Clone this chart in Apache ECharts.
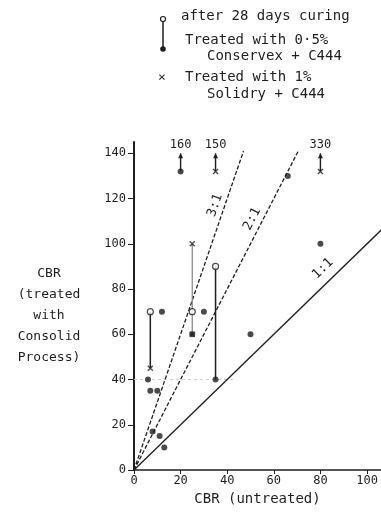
<!DOCTYPE html>
<html>
<head>
<meta charset="utf-8">
<script src="https://cdn.jsdelivr.net/npm/echarts@6/dist/echarts.min.js"></script>
<style>
  html, body { margin: 0; padding: 0; background: #fff; }
  #chart { width: 381px; height: 525px; }
</style>
</head>
<body>
<div id="chart"></div>
<script>
// values
const filledPts = [[12, 70], [30, 70], [25, 60], [6, 40], [35, 40], [7, 35], [10, 35],
  [8, 17], [11, 15], [13, 10], [50, 60], [80, 100], [66, 130], [20, 132]];
const openPts = [[7, 70], [25, 70], [35, 90]];
const crossPts = [[7, 45], [25, 60], [25, 100], [35, 132], [80, 132]];
// [x, from, to]
const curingLinks = [[7, 70, 45], [35, 90, 40]];
const greyLinks = [[25, 100, 60]];
// off-scale values: [x, y, arrow tip, value]
const offScale = [[20, 132, 140, '160'], [35, 132, 140, '150'], [80, 132, 140, '330']];
const ratios = [3, 2, 1];
const ratioEndX = [47, 70.5, 110];
const ratioNames = ['3:1', '2:1', '1:1'];
const ratioLabelAt = [[34.8, 117], [50.7, 111], [81, 89]];

const ink = '#1e1e1e';
const mono = 'DejaVu Sans Mono';

const chart = echarts.init(document.getElementById('chart'));

const ratioSeries = ratios.map((r, i) => ({
  type: 'line',
  data: [[0, 0], [ratioEndX[i], ratioEndX[i] * r]],
  symbol: 'none',
  silent: true,
  lineStyle: { color: ink, width: 1.3, type: r === 1 ? 'solid' : [4, 2] },
  z: 2
}));

const option = {
  animation: false,
  grid: { left: 134, right: 0, top: 142, bottom: 55 },
  xAxis: {
    type: 'value', min: 0, max: 106, interval: 20,
    axisLine: { lineStyle: { color: ink, width: 1.5 } },
    axisTick: { length: 4, lineStyle: { color: ink } },
    axisLabel: {
      color: ink, fontFamily: mono, fontSize: 12, margin: 5, showMaxLabel: false,
      formatter: v => (v % 20 === 0 ? v : '')
    },
    splitLine: { show: false },
    name: 'CBR (untreated)', nameLocation: 'middle', nameGap: 22,
    nameTextStyle: { color: ink, fontFamily: mono, fontSize: 14 }
  },
  yAxis: {
    type: 'value', min: 0, max: 145, interval: 20,
    axisLine: { lineStyle: { color: ink, width: 2 } },
    axisTick: { length: 6, lineStyle: { color: ink } },
    axisLabel: {
      color: ink, fontFamily: mono, fontSize: 12, margin: 8, showMaxLabel: false,
      formatter: v => (v % 20 === 0 ? v : '')
    },
    splitLine: { show: false }
  },
  graphic: [
    // legend
    { type: 'line', shape: { x1: 163, y1: 19, x2: 163, y2: 49 }, style: { stroke: ink, lineWidth: 1.5 } },
    { type: 'circle', shape: { cx: 163, cy: 19, r: 2.5 }, style: { fill: '#fff', stroke: ink, lineWidth: 1.2 } },
    { type: 'circle', shape: { cx: 163, cy: 49, r: 2.8 }, style: { fill: ink } },
    { type: 'text', left: 181, top: 9, style: { text: 'after 28 days curing', font: '14px ' + mono, fill: ink } },
    { type: 'text', left: 185, top: 33, style: { text: 'Treated with 0·5%', font: '14px ' + mono, fill: ink } },
    { type: 'text', left: 207, top: 49, style: { text: 'Conservex + C444', font: '14px ' + mono, fill: ink } },
    { type: 'text', left: 158, top: 71, style: { text: '×', font: '13px ' + mono, fill: ink } },
    { type: 'text', left: 185, top: 70, style: { text: 'Treated with 1%', font: '14px ' + mono, fill: ink } },
    { type: 'text', left: 207, top: 87, style: { text: 'Solidry + C444', font: '14px ' + mono, fill: ink } },
    // y axis title
    {
      type: 'text', x: 49, y: 263,
      style: {
        text: 'CBR\n(treated\nwith\nConsolid\nProcess)', font: '13px ' + mono,
        fill: ink, align: 'center', verticalAlign: 'top', lineHeight: 21
      }
    }
  ],
  series: [
    ...ratioSeries,
    {
      // faint guide at 40
      type: 'line', data: [[0, 40], [43, 40]], symbol: 'none', silent: true,
      lineStyle: { color: '#d0d0d0', width: 1, type: [3, 3] }, z: 1
    },
    {
      type: 'custom',
      silent: true,
      data: curingLinks.concat(greyLinks),
      renderItem: (params, api) => {
        const a = api.coord([api.value(0), api.value(1)]);
        const b = api.coord([api.value(0), api.value(2)]);
        const grey = params.dataIndex >= curingLinks.length;
        return {
          type: 'line',
          shape: { x1: a[0], y1: a[1], x2: b[0], y2: b[1] },
          style: { stroke: grey ? '#8a8a8a' : ink, lineWidth: grey ? 1.3 : 1.5 }
        };
      },
      z: 3
    },
    {
      type: 'custom',
      silent: true,
      data: offScale,
      renderItem: (params, api) => {
        const a = api.coord([api.value(0), api.value(1)]);
        const t = api.coord([api.value(0), api.value(2)]);
        return {
          type: 'group',
          children: [
            { type: 'line', shape: { x1: a[0], y1: a[1], x2: t[0], y2: t[1] }, style: { stroke: ink, lineWidth: 1.4 } },
            { type: 'polygon', shape: { points: [[t[0], t[1]], [t[0] - 2.5, t[1] + 5], [t[0] + 2.5, t[1] + 5]] }, style: { fill: ink } },
            {
              type: 'text', x: t[0], y: t[1] - 2,
              style: { text: offScale[params.dataIndex][3], font: '12px ' + mono, fill: ink, align: 'center', verticalAlign: 'bottom' }
            }
          ]
        };
      },
      z: 3
    },
    {
      type: 'custom',
      silent: true,
      data: ratioLabelAt,
      renderItem: (params, api) => {
        const r = ratios[params.dataIndex];
        const p0 = api.coord([0, 0]);
        const p1 = api.coord([10, 10 * r]);
        const ang = Math.atan2(p0[1] - p1[1], p1[0] - p0[0]);
        const c = api.coord([api.value(0), api.value(1)]);
        return {
          type: 'text', x: c[0], y: c[1], rotation: ang,
          style: { text: ratioNames[params.dataIndex], font: '13px ' + mono, fill: ink, align: 'center', verticalAlign: 'middle' }
        };
      },
      z: 3
    },
    {
      type: 'scatter', data: filledPts, symbol: 'circle', symbolSize: 6,
      itemStyle: { color: ink }, z: 4
    },
    {
      type: 'scatter', data: openPts, symbol: 'circle', symbolSize: 6,
      itemStyle: { color: '#fff', borderColor: ink, borderWidth: 1.2 }, z: 5
    },
    {
      type: 'scatter', data: crossPts, symbol: 'path://M0,0L10,10M10,0L0,10', symbolSize: 5,
      itemStyle: { color: 'rgba(0,0,0,0)', borderColor: ink, borderWidth: 1.4 }, z: 5
    }
  ]
};

chart.setOption(option);
</script>
</body>
</html>
